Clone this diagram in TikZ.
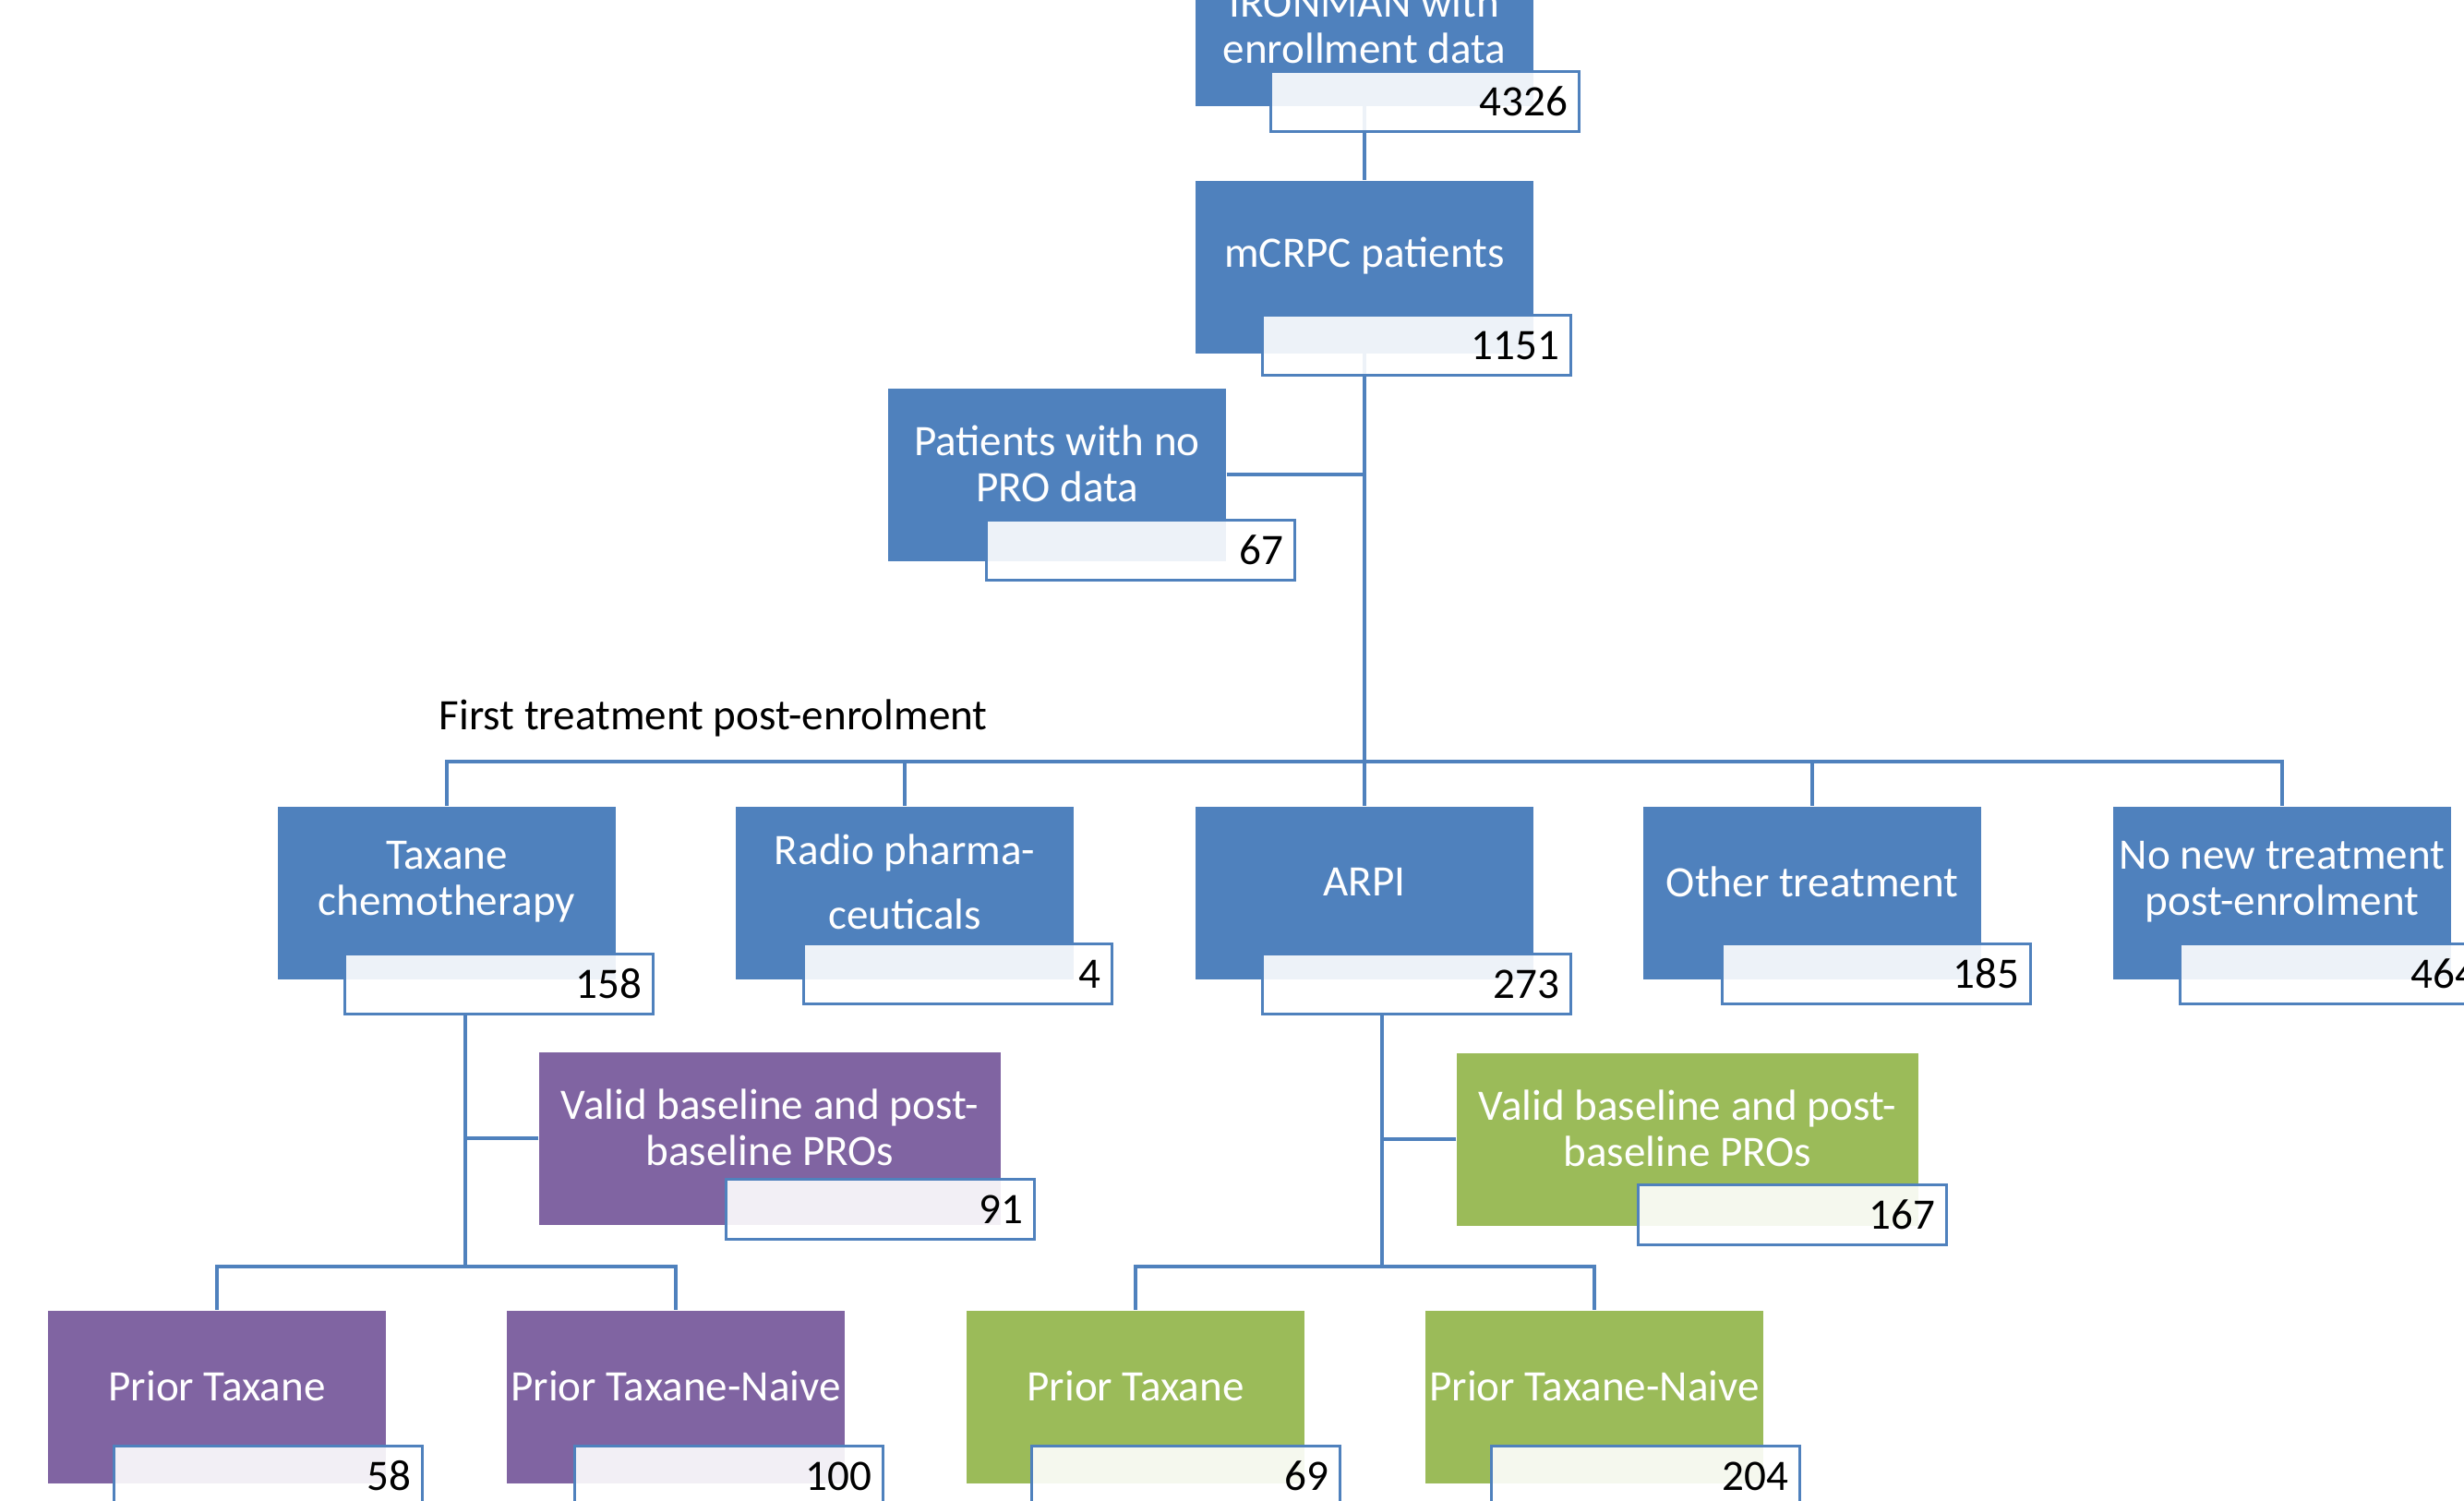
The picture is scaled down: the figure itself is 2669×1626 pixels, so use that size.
\documentclass[tikz,border=0pt]{standalone}
\usepackage{fontspec}
\setmainfont{Carlito}
\usetikzlibrary{backgrounds}
\definecolor{accblue}{HTML}{4F81BD}
\definecolor{accpurple}{HTML}{8064A2}
\definecolor{accgreen}{HTML}{9BBB59}
\tikzset{
	box/.style={rectangle, inner sep=0pt, minimum width=36.6mm, minimum height=18.7mm},
	bluebox/.style={box, fill=accblue},
	purplebox/.style={box, fill=accpurple},
	greenbox/.style={box, fill=accgreen},
	boxtext/.style={text=white, align=center, inner sep=0pt, font=\fontsize{13.4}{14.2}\selectfont, yshift=1.2mm},
	numbox/.style={draw=accblue, line width=0.3mm, fill=white, fill opacity=0.9, text opacity=1, text=black,
		minimum height=6.5mm, inner ysep=0pt, inner xsep=1.2mm, text width=31mm, align=right,
		font=\fontsize{13.4}{14.2}\selectfont},
	link/.style={draw=accblue, line width=0.33mm}
}
\begin{document}
\begin{tikzpicture}[x=0.1mm, y=-0.1mm]
		\useasboundingbox (0,0) rectangle (2669,1626);
		% top
		\node[bluebox] (iron) at (1478,21) {};
		\node[boxtext] (iron-t) at (1478,39) {IRONMAN with\\enrollment data};
		\node[numbox] (iron-n) at (1543,110) {4326};
		\node[bluebox] (mcrpc) at (1478,289) {};
		\node[boxtext] (mcrpc-t) at (mcrpc) {mCRPC patients};
		\node[numbox] (mcrpc-n) at (1534,374) {1151};
		\node[bluebox] (nopro) at (1145,514) {};
		\node[boxtext] (nopro-t) at (nopro) {Patients with no\\PRO data};
		\node[numbox] (nopro-n) at (1235,596) {67};
		%
		\node[anchor=west, inner sep=0pt, font=\fontsize{13.4}{14.2}\selectfont] (firsttx) at (475,778) {First treatment post-enrolment};
		% first treatment
		\node[bluebox] (taxane) at (484,967) {};
		\node[boxtext] (taxane-t) at (taxane) {Taxane\\chemotherapy};
		\node[numbox] (taxane-n) at (540,1066) {158};
		\node[bluebox] (radio) at (980,967) {};
		\node[boxtext] (radio-t) at (radio) {Radio pharma-\\[2mm]ceuticals};
		\node[numbox] (radio-n) at (1037,1055) {4};
		\node[bluebox] (arpi) at (1478,967) {};
		\node[boxtext] (arpi-t) at (arpi) {ARPI};
		\node[numbox] (arpi-n) at (1534,1066) {273};
		\node[bluebox] (other) at (1963,967) {};
		\node[boxtext] (other-t) at (other) {Other treatment};
		\node[numbox] (other-n) at (2032,1055) {185};
		\node[bluebox] (nonew) at (2472,967) {};
		\node[boxtext] (nonew-t) at (nonew) {No new treatment\\post-enrolment};
		\node[numbox] (nonew-n) at (2528,1055) {464};
		% valid PROs
		\node[purplebox, minimum width=50mm] (pvalid) at (834,1233) {};
		\node[boxtext] (pvalid-t) at (pvalid) {Valid baseline and post-\\baseline PROs};
		\node[numbox] (pvalid-n) at (953,1310) {91};
		\node[greenbox, minimum width=50mm] (gvalid) at (1828,1234) {};
		\node[boxtext] (gvalid-t) at (gvalid) {Valid baseline and post-\\baseline PROs};
		\node[numbox] (gvalid-n) at (1941,1316) {167};
		% prior taxane
		\node[purplebox] (pprior) at (235,1513) {};
		\node[boxtext] (pprior-t) at (pprior) {Prior Taxane};
		\node[numbox] (pprior-n) at (290,1599) {58};
		\node[purplebox] (pnaive) at (732,1513) {};
		\node[boxtext] (pnaive-t) at (pnaive) {Prior Taxane-Naive};
		\node[numbox] (pnaive-n) at (789,1599) {100};
		\node[greenbox] (gprior) at (1230,1513) {};
		\node[boxtext] (gprior-t) at (gprior) {Prior Taxane};
		\node[numbox] (gprior-n) at (1284,1599) {69};
		\node[greenbox] (gnaive) at (1727,1513) {};
		\node[boxtext] (gnaive-t) at (gnaive) {Prior Taxane-Naive};
		\node[numbox] (gnaive-n) at (1782,1599) {204};
		% connectors
		\coordinate (bus) at (1478,825);
		\coordinate (tbus) at (504,1372);
		\coordinate (abus) at (1497,1372);
		\begin{scope}[on background layer]
			\draw[link] (iron.south) -- (mcrpc.north);
			\draw[link] (mcrpc.south) -- (arpi.north);
			\draw[link] (nopro.east) -- (nopro.east -| mcrpc.south);
			\draw[link] (taxane.north) |- (bus) -| (nonew.north);
			\draw[link] (radio.north) -- (radio.north |- bus);
			\draw[link] (other.north) -- (other.north |- bus);
			%
			\draw[link] (taxane-n.south -| tbus) -- (tbus);
			\draw[link] (pvalid.west) -- (pvalid.west -| tbus);
			\draw[link] (pprior.north) |- (tbus) -| (pnaive.north);
			%
			\draw[link] (arpi-n.south -| abus) -- (abus);
			\draw[link] (gvalid.west) -- (gvalid.west -| abus);
			\draw[link] (gprior.north) |- (abus) -| (gnaive.north);
		\end{scope}
	\end{tikzpicture}
\end{document}
